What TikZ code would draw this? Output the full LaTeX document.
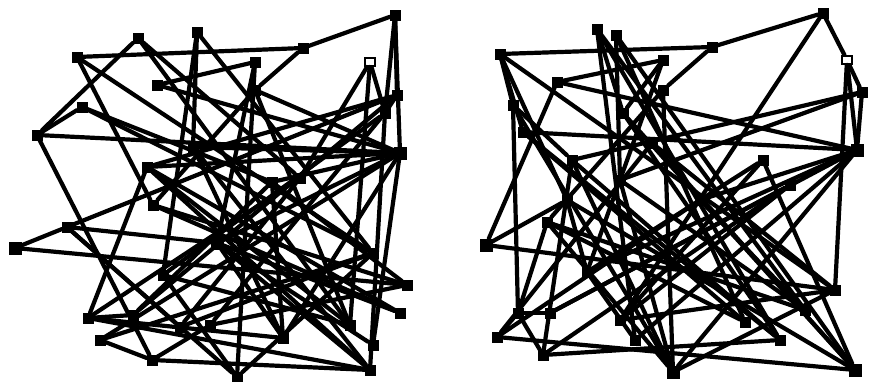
\documentclass[tikz,border=0pt]{standalone}
\begin{document}
\begin{tikzpicture}[x=1pt,y=-1pt,
  nd/.style={rectangle,fill=black,draw=black,minimum size=10pt,inner sep=0pt},
  bignd/.style={nd,minimum size=12pt},
  hollownd/.style={rectangle,fill=white,draw=black,line width=2pt,minimum width=10pt,minimum height=8pt,inner sep=0pt},
  edge/.style={line width=4.2pt,line cap=round}]
\useasboundingbox (0,0) rectangle (870,382);
% left graph nodes
\node[nd] (L1) at (395,15) {};
\node[nd] (L2) at (197,32) {};
\node[nd] (L3) at (138,38) {};
\node[nd] (L4) at (303,48) {};
\node[nd] (L5) at (77,57) {};
\node[nd] (L6) at (255,62) {};
\node[hollownd] (L7) at (370,62) {};
\node[nd] (L8) at (157,85) {};
\node[nd] (L9) at (397,95) {};
\node[nd] (L10) at (82,107) {};
\node[nd] (L11) at (37,135) {};
\node[nd] (L12) at (385,113) {};
\node[bignd] (L13) at (400,153) {};
\node[nd] (L14) at (255,90) {};
\node[nd] (L15) at (193,147) {};
\node[nd] (L16) at (147,167) {};
\node[nd] (L17) at (272,182) {};
\node[nd] (L18) at (153,205) {};
\node[nd] (L19) at (67,227) {};
\node[bignd] (L20) at (15,248) {};
\node[bignd] (L21) at (217,243) {};
\node[nd] (L22) at (163,275) {};
\node[nd] (L23) at (373,253) {};
\node[nd] (L24) at (407,285) {};
\node[nd] (L25) at (400,313) {};
\node[nd] (L26) at (350,325) {};
\node[nd] (L27) at (373,345) {};
\node[nd] (L28) at (370,370) {};
\node[nd] (L29) at (283,338) {};
\node[nd] (L30) at (237,377) {};
\node[nd] (L31) at (88,318) {};
\node[nd] (L32) at (133,315) {};
\node[nd] (L33) at (100,340) {};
\node[nd] (L34) at (152,360) {};
\node[nd] (L35) at (180,327) {};
\node[nd] (L36) at (300,178) {};
\node[nd] (L37) at (210,325) {};
% right graph nodes
\node[nd] (R1) at (823,13) {};
\node[nd] (R2) at (597,29) {};
\node[nd] (R3) at (616,35) {};
\node[nd] (R4) at (712,47) {};
\node[nd] (R5) at (500,54) {};
\node[nd] (R6) at (663,60) {};
\node[hollownd] (R7) at (847,60) {};
\node[nd] (R8) at (557,82) {};
\node[nd] (R9) at (862,92) {};
\node[nd] (R10) at (663,90) {};
\node[nd] (R11) at (513,105) {};
\node[nd] (R12) at (623,113) {};
\node[nd] (R13) at (523,132) {};
\node[bignd] (R14) at (857,150) {};
\node[nd] (R15) at (763,160) {};
\node[nd] (R16) at (572,160) {};
\node[nd] (R17) at (652,143) {};
\node[nd] (R18) at (567,200) {};
\node[nd] (R19) at (547,222) {};
\node[bignd] (R20) at (486,245) {};
\node[nd] (R21) at (587,272) {};
\node[nd] (R22) at (518,313) {};
\node[nd] (R23) at (550,313) {};
\node[nd] (R24) at (497,337) {};
\node[nd] (R25) at (543,355) {};
\node[nd] (R26) at (620,320) {};
\node[nd] (R27) at (635,340) {};
\node[bignd] (R28) at (673,372) {};
\node[nd] (R29) at (745,322) {};
\node[nd] (R30) at (780,340) {};
\node[nd] (R31) at (805,310) {};
\node[nd] (R32) at (835,290) {};
\node[bignd] (R33) at (855,370) {};
\node[nd] (R34) at (700,200) {};
\node[nd] (R35) at (790,185) {};
\node[nd] (R36) at (620,180) {};
% left edges
\foreach \a/\b in {L5/L4,L4/L1,L1/L9,L1/L13,L1/L12,L3/L11,L3/L26,L11/L13,L11/L10,L11/L34,
  L10/L23,L2/L15,L2/L23,L5/L23,L5/L18,L8/L13,L6/L8,L6/L30,L4/L14,L14/L13,
  L14/L26,L14/L18,L7/L12,L7/L36,L7/L26,L12/L28,L13/L27,L9/L12,L19/L20,L19/L21,
  L19/L9,L19/L30,L20/L24,L31/L16,L31/L32,L33/L34,L33/L13,L34/L28,L28/L21,L28/L16,
  L28/L31,L30/L22,L30/L23,L24/L17,L25/L16,L29/L31,L29/L15,L17/L13,L15/L13,L16/L13,
  L21/L13,L18/L24,L21/L25,L22/L26,L32/L17,L35/L23,L2/L22,L36/L31,L17/L29,L15/L28,
  L37/L12,L37/L34,L6/L21,L10/L17,L16/L26,L18/L25,L21/L29,L27/L21,L9/L16,L12/L22,
  L29/L13,L33/L23,L3/L36,L32/L9,L37/L24,L35/L36,L19/L35}
  \draw[edge] (\a) -- (\b);
% right edges
\foreach \a/\b in {R5/R4,R4/R1,R1/R7,R7/R9,R1/R26,R7/R14,R9/R14,R9/R16,R5/R32,R5/R18,
  R2/R27,R2/R30,R3/R29,R3/R33,R8/R6,R8/R14,R8/R20,R11/R22,R13/R14,R5/R13,
  R20/R18,R20/R32,R19/R31,R19/R22,R21/R18,R21/R27,R22/R23,R22/R24,R24/R33,R25/R30,
  R25/R22,R28/R19,R28/R16,R33/R15,R33/R17,R4/R10,R6/R12,R10/R28,R12/R30,R14/R23,
  R14/R21,R14/R34,R15/R26,R17/R24,R32/R26,R31/R36,R30/R16,R29/R13,R28/R11,R27/R14,
  R26/R35,R2/R12,R3/R36,R16/R25,R18/R33,R23/R35,R24/R34,R21/R15,R36/R28,R34/R31,
  R35/R25,R32/R17,R30/R13,R9/R36,R6/R21,R10/R19,R12/R33,R11/R16,R28/R32,R29/R19,
  R7/R32,R14/R28,R5/R11,R2/R31}
  \draw[edge] (\a) -- (\b);
\end{tikzpicture}
\end{document}
